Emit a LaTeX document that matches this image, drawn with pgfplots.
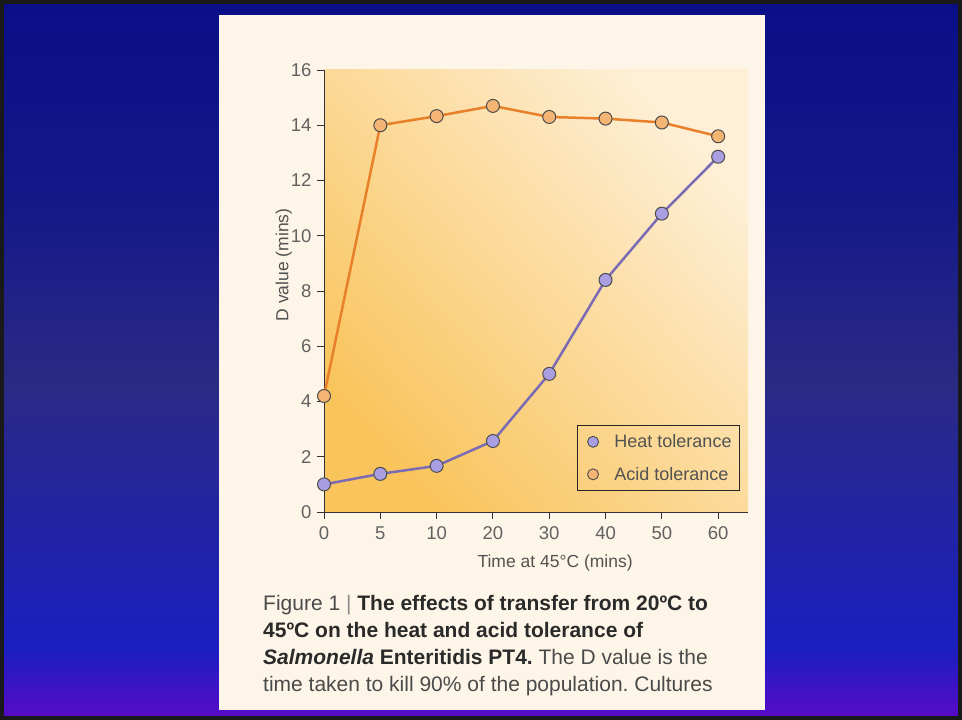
\documentclass[border=0pt]{standalone}
\usepackage{pgfplots}
\pgfplotsset{compat=1.18}
\usepackage{fontspec}
\setmainfont{Liberation Sans}
\definecolor{sbtop}{HTML}{0A0F88}
\definecolor{sbupper}{HTML}{121789}
\definecolor{sbmid}{HTML}{2A2A84}
\definecolor{sblow}{HTML}{1A1FC0}
\definecolor{sbbot}{HTML}{5A0AC8}
\definecolor{panel}{HTML}{FDF6E8}
\definecolor{bgtop}{HTML}{FEEFD6}
\definecolor{bgmid}{HTML}{FCDA9C}
\definecolor{bgbot}{HTML}{F9C45C}
\definecolor{heatline}{HTML}{7B6BB5}
\definecolor{heatfill}{HTML}{A99EE2}
\definecolor{acidline}{HTML}{E8802A}
\definecolor{acidfill}{HTML}{F3B474}
\definecolor{txt}{HTML}{4A4A4A}
\definecolor{boldtxt}{HTML}{2A2A2A}
\pgfdeclareverticalshading{slidebg}{100bp}{color(0bp)=(sbbot); color(25bp)=(sbbot); color(26.5bp)=(sbbot!70!sblow); color(30bp)=(sblow); color(48.5bp)=(sbmid); color(62bp)=(sbupper); color(75bp)=(sbtop); color(100bp)=(sbtop)}
\frenchspacing
\begin{document}
\begin{tikzpicture}[x=1pt,y=1pt]
\shade[shading=slidebg] (0,0) rectangle (962,720);
\draw[line width=4pt, color=black!90] (2,2) rectangle (960,718);
\fill[panel] (219,10) rectangle (765,705);
\begin{axis}[
  at={(324pt,208pt)}, anchor=south west,
  scale only axis, width=424pt, height=442pt,
  xmin=0, xmax=7.53, ymin=0, ymax=16,
  clip=false,
  axis lines*=left,
  axis line style={color=black!80, line width=0.9pt},
  xtick={0,...,7}, xticklabels={0,5,10,20,30,40,50,60},
  ytick={0,2,...,16},
  tick align=outside, major tick length=7pt,
  tick style={color=black!80, line width=0.9pt},
  ticklabel style={font=\fontsize{18.5}{20}\selectfont, text=black!62},
  xticklabel style={yshift=-4pt},
  yticklabel style={xshift=-2pt},
  /pgf/number format/assume math mode=true,
  axis background/.style={shade, top color=bgtop, middle color=bgmid, bottom color=bgbot, shading angle=-48},
  xlabel={Time at 45°C (mins)},
  ylabel={D value (mins)},
  label style={font=\fontsize{17.5}{20}\selectfont, text=black!68},
  xlabel style={at={(axis description cs:0.545,-0.115)}, anchor=center},
  ylabel style={at={(axis description cs:-0.095,0.559)}, anchor=center, rotate=0},
  legend style={at={(0.981,0.0475)}, anchor=south east, draw=black!85, line width=0.8pt, fill=none,
    font=\fontsize{18}{20}\selectfont, text=black!68, row sep=14pt, inner xsep=6pt, inner ysep=7pt,
    /tikz/every even column/.append style={column sep=4pt}},
  legend cell align=left,
  legend image code/.code={\path (0pt,0pt) (28pt,0pt); \draw[#1] plot coordinates {(9pt,0pt)};},
]
\addlegendimage{only marks, mark=*, mark size=5.5pt, mark options={draw=black!70, line width=0.9pt, fill=heatfill}}
\addlegendentry{Heat tolerance}
\addlegendimage{only marks, mark=*, mark size=5.5pt, mark options={draw=black!70, line width=0.9pt, fill=acidfill}}
\addlegendentry{Acid tolerance}
\addplot[acidline, line width=2.5pt, mark=*, mark size=6.5pt, mark options={draw=black!70, line width=1pt, fill=acidfill}, forget plot]
  coordinates {(0,4.2) (1,14.0) (2,14.33) (3,14.7) (4,14.3) (5,14.24) (6,14.1) (7,13.6)};
\addplot[heatline, line width=2.5pt, mark=*, mark size=6.5pt, mark options={draw=black!70, line width=1pt, fill=heatfill}, forget plot]
  coordinates {(0,1.0) (1,1.38) (2,1.67) (3,2.57) (4,5.0) (5,8.4) (6,10.8) (7,12.86)};
\end{axis}
\begin{scope}[every node/.style={anchor=base west, inner sep=0pt, font=\fontsize{21}{25}\selectfont, text=txt}]
\node at (263,109) {Figure 1 {\color{black!45}|} {\bfseries\color{boldtxt}The effects of transfer from 20ºC to}};
\node at (263,82) {\bfseries\color{boldtxt}45ºC on the heat and acid tolerance of};
\node at (263,55) {{\bfseries\color{boldtxt}\textit{Salmonella} Enteritidis PT4.} The D value is the};
\node at (263,28) {time taken to kill 90\% of the population. Cultures};
\end{scope}
\end{tikzpicture}
\end{document}
